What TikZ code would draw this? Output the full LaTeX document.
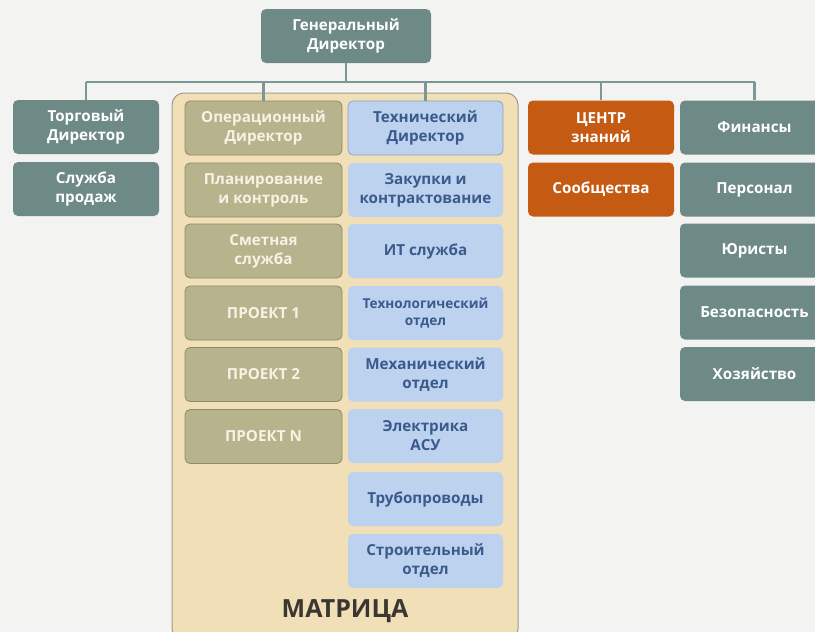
\documentclass[tikz,border=0pt]{standalone}
\usepackage{fontspec}
\setmainfont{Open Sans}
\definecolor{bg}{HTML}{F3F3F1}
\definecolor{teal}{HTML}{6E8A86}
\definecolor{olive}{HTML}{B7B38D}
\definecolor{olivedark}{HTML}{8E8B68}
\definecolor{bluefill}{HTML}{BDD2EE}
\definecolor{blueline}{HTML}{8FA3B8}
\definecolor{bluetext}{HTML}{3B5A8C}
\definecolor{orange}{HTML}{C55A13}
\definecolor{matfill}{HTML}{F0DFB7}
\definecolor{matline}{HTML}{A09C8C}
\definecolor{conn}{HTML}{7D9894}
\definecolor{mattext}{HTML}{3B3631}
\definecolor{olivetext}{HTML}{F6F3E4}
\tikzset{
  box/.style={rounded corners=5pt, minimum height=54pt, align=center, inner sep=0pt,
    font=\bfseries\fontsize{15.2}{19}\selectfont},
  tealbox/.style={box, fill=teal, text=white, minimum width=146pt},
  olivebox/.style={box, fill=olive, draw=olivedark, line width=0.8pt, text=olivetext, minimum width=157pt},
  bluebox/.style={box, fill=bluefill, text=bluetext, minimum width=155pt},
  orangebox/.style={box, fill=orange, text=white, minimum width=146pt},
  rightbox/.style={box, fill=teal, text=white, minimum width=149pt},
  connline/.style={draw=conn, line width=2.2pt},
}
\begin{document}
\begin{tikzpicture}[x=1pt,y=-1pt]
\useasboundingbox (0,0) rectangle (815,632);
\clip (0,0) rectangle (815,632);
\fill[bg] (0,0) rectangle (815,632);

% matrix container
\node[draw=matline, fill=matfill, line width=1pt, rounded corners=12pt,
  minimum width=346pt, minimum height=548pt, inner sep=0pt] (matrix) at (345,367) {};
\node[font=\bfseries\fontsize{25}{30}\selectfont, text=mattext] (mattitle) at (345,611) {МАТРИЦА};

% top
\node[tealbox, minimum width=170pt] (gd) at (346,36) {Генеральный\\Директор};

% left
\node[tealbox] (torg) at (86,127) {Торговый\\Директор};
\node[tealbox] (sales) at (86,189) {Служба\\продаж};

% olive column
\node[olivebox] (op) at (263.5,128) {Операционный\\Директор};
\node[olivebox] (plan) at (263.5,190) {Планирование\\и контроль};
\node[olivebox] (smet) at (263.5,251) {Сметная\\служба};
\node[olivebox] (p1) at (263.5,313) {ПРОЕКТ 1};
\node[olivebox] (p2) at (263.5,374.5) {ПРОЕКТ 2};
\node[olivebox] (pn) at (263.5,436.5) {ПРОЕКТ N};

% blue column
\node[bluebox, draw=blueline, line width=0.8pt] (tech) at (425.5,128) {Технический\\Директор};
\node[bluebox] (zak) at (425.5,190) {Закупки и\\контрактование};
\node[bluebox] (it) at (425.5,251) {ИТ служба};
\node[bluebox, font=\bfseries\fontsize{13.6}{17.5}\selectfont] (techn) at (425.5,313) {Технологический\\отдел};
\node[bluebox] (mech) at (425.5,374.5) {Механический\\отдел};
\node[bluebox] (el) at (425.5,436) {Электрика\\АСУ};
\node[bluebox] (truba) at (425.5,499) {Трубопроводы};
\node[bluebox] (stroi) at (425.5,561) {Строительный\\отдел};

% orange column
\node[orangebox] (center) at (601,127.5) {ЦЕНТР\\знаний};
\node[orangebox] (soob) at (601,189.5) {Сообщества};

% right column
\node[rightbox] (fin) at (754.5,127.5) {Финансы};
\node[rightbox] (pers) at (754.5,189.5) {Персонал};
\node[rightbox] (jur) at (754.5,250.5) {Юристы};
\node[rightbox] (bez) at (754.5,312.5) {Безопасность};
\node[rightbox] (hoz) at (754.5,374) {Хозяйство};

% connectors
\coordinate (bus) at (0,82);
\draw[connline] (gd.south) -- (gd.south |- bus);
\draw[connline] (torg.north |- bus) -- (fin.north |- bus);
\draw[connline] (torg.north |- bus) -- (torg.north);
\draw[connline] (op.north |- bus) -- (op.north);
\draw[connline] (tech.north |- bus) -- (tech.north);
\draw[connline] (center.north |- bus) -- (center.north);
\draw[connline] (fin.north |- bus) -- (fin.north);
\end{tikzpicture}
\end{document}
